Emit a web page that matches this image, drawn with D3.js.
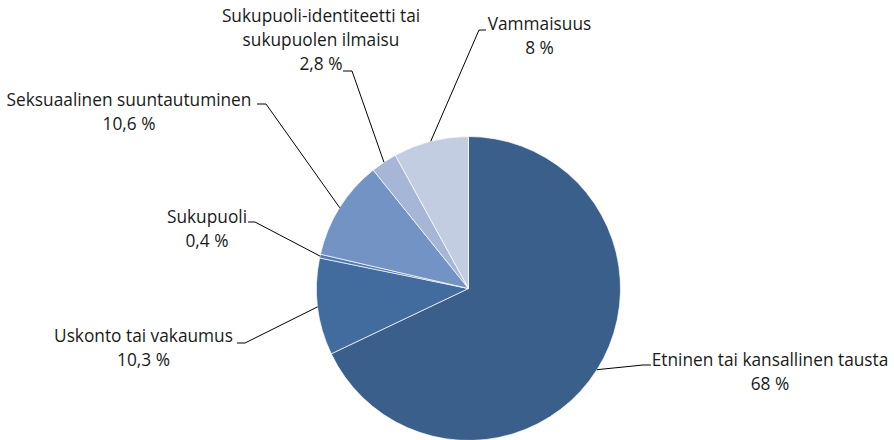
<!DOCTYPE html>
<html>
<head>
<meta charset="utf-8">
<script src="https://cdn.jsdelivr.net/npm/d3@7"></script>
<style>
  html, body { margin: 0; padding: 0; background: #ffffff; }
  svg { display: block; }
</style>
</head>
<body>
<div id="chart"></div>
<script>
// ---- data ----
const categories = [
  "Etninen tai kansallinen tausta",
  "Uskonto tai vakaumus",
  "Sukupuoli",
  "Seksuaalinen suuntautuminen",
  "Sukupuoli-identiteetti tai sukupuolen ilmaisu",
  "Vammaisuus"
];
const categoryLines = [
  ["Etninen tai kansallinen tausta"],
  ["Uskonto tai vakaumus"],
  ["Sukupuoli"],
  ["Seksuaalinen suuntautuminen"],
  ["Sukupuoli-identiteetti tai", "sukupuolen ilmaisu"],
  ["Vammaisuus"]
];
const values = [68, 10.3, 0.4, 10.6, 2.8, 8];
const valueLabels = ["68 %", "10,3 %", "0,4 %", "10,6 %", "2,8 %", "8 %"];
const colors = ["#3a5f8b", "#426b9e", "#4f7ab4", "#7393c4", "#a5b6d7", "#c3cde2"];

// ---- layout (label placement) ----
const labelLayout = [
  { x: 770, y: 366, elbow: [643, 365], end: [651, 365] },
  { x: 143.5, y: 342, elbow: [245, 343], end: [237, 343] },
  { x: 207, y: 223, elbow: [255, 222], end: [248, 222] },
  { x: 129, y: 106, elbow: [266, 104], end: [257, 104] },
  { x: 321, y: 22, elbow: [352, 71], end: [343, 71] },
  { x: 539.5, y: 30, elbow: [479, 30], end: [486, 30] }
];

const W = 894, H = 440;
const cx = 468.5, cy = 288.5, R = 152;
const lineH = 24;

const svg = d3.select("#chart").append("svg")
  .attr("width", W).attr("height", H);

const data = categories.map((c, i) => ({ cat: c, value: values[i], i }));

const pie = d3.pie().value(d => d.value).sort(null);
const arcs = pie(data);
const arc = d3.arc().innerRadius(0).outerRadius(R);

const g = svg.append("g").attr("transform", `translate(${cx},${cy})`);

g.selectAll("path.slice")
  .data(arcs)
  .join("path")
  .attr("class", "slice")
  .attr("d", arc)
  .attr("fill", d => colors[d.data.i])
  .attr("stroke", "#ffffff")
  .attr("stroke-width", 0.7)
  .attr("stroke-linejoin", "round");

// leader lines
const leaders = svg.append("g");
arcs.forEach(a => {
  const i = a.data.i;
  const L = labelLayout[i];
  const mid = (a.startAngle + a.endAngle) / 2;
  const sx = cx + R * Math.sin(mid);
  const sy = cy - R * Math.cos(mid);
  leaders.append("path")
    .attr("d", d3.line()([[sx, sy], L.elbow, L.end]))
    .attr("fill", "none")
    .attr("stroke", "#000000")
    .attr("stroke-width", 1);
});

// labels
const labels = svg.append("g")
  .attr("font-family", "'Open Sans', sans-serif")
  .attr("font-size", 17.3)
  .attr("fill", "#1a1a1a")
  .attr("text-anchor", "middle");

arcs.forEach(a => {
  const i = a.data.i;
  const L = labelLayout[i];
  const lines = categoryLines[i].concat([valueLabels[i]]);
  const t = labels.append("text").attr("x", L.x).attr("y", L.y);
  lines.forEach((ln, k) => {
    t.append("tspan").attr("x", L.x).attr("y", L.y + k * lineH).text(ln);
  });
});
</script>
</body>
</html>
